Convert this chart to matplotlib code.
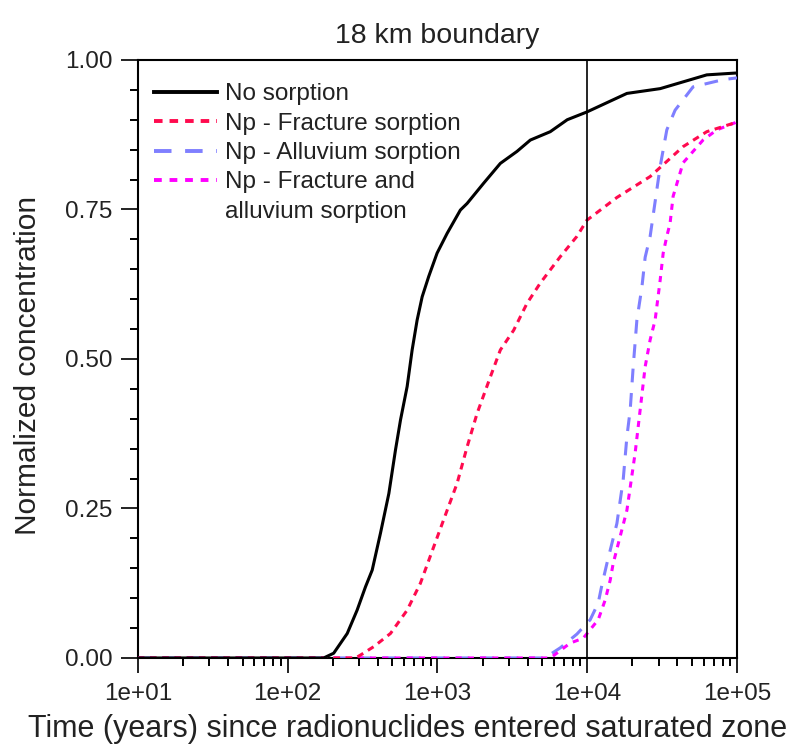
import matplotlib
matplotlib.use("Agg")
import matplotlib.pyplot as plt
from matplotlib.lines import Line2D
from matplotlib.ticker import FixedLocator, MultipleLocator, LogLocator, NullFormatter

plt.rcParams["font.family"] = ["Liberation Sans", "DejaVu Sans"]

# -------------------------------
# Data
# -------------------------------
t_none = [10, 174, 203, 250, 291, 331, 367, 417, 474, 525, 567, 628, 678, 732, 791,
          875, 995, 1161, 1423, 1578, 2037, 2630, 3396, 4170, 5667, 7356, 9953,
          18400, 30690, 62800, 97000, 100000]
c_none = [0, 0, 0.008, 0.041, 0.08, 0.119, 0.147, 0.209, 0.275, 0.348, 0.398, 0.454,
          0.515, 0.565, 0.604, 0.638, 0.677, 0.71, 0.749, 0.76, 0.794, 0.827, 0.847,
          0.866, 0.88, 0.90, 0.913, 0.944, 0.952, 0.975, 0.978, 0.978]

t_frac = [10, 284, 307, 376, 486, 628, 770, 945, 1161, 1353, 1578, 1840, 2256, 2630,
          3228, 3963, 4864, 6607, 8535, 9953, 15780, 26300, 43650, 62800, 97000, 100000]
c_frac = [0, 0, 0.005, 0.019, 0.041, 0.08, 0.125, 0.186, 0.247, 0.292, 0.353, 0.409,
          0.47, 0.515, 0.548, 0.593, 0.627, 0.671, 0.705, 0.732, 0.77, 0.805, 0.855,
          0.88, 0.895, 0.897]

t_allu = [10, 5200, 6607, 8535, 10470, 11840, 12530, 13530, 15780, 17380, 18400, 19360,
          20270, 21450, 23170, 24360, 26300, 30690, 33980, 38600, 50900, 80700, 100000]
c_allu = [0, 0, 0.017, 0.04, 0.064, 0.092, 0.122, 0.158, 0.225, 0.298, 0.37, 0.415,
          0.487, 0.565, 0.62, 0.67, 0.705, 0.822, 0.883, 0.916, 0.955, 0.967, 0.97]

t_both = [10, 5500, 5820, 7700, 9400, 11840, 13180, 14230, 14900, 18400, 20890, 22560,
          24360, 26300, 28390, 30690, 32140, 33980, 35730, 37440, 43650, 59300, 73280,
          97000, 100000]
c_both = [0, 0, 0.002, 0.025, 0.033, 0.064, 0.097, 0.13, 0.158, 0.247, 0.343, 0.415,
          0.487, 0.532, 0.565, 0.632, 0.677, 0.705, 0.727, 0.772, 0.828, 0.866, 0.883,
          0.895, 0.897]

labels = ["No sorption", "Np - Fracture sorption", "Np - Alluvium sorption",
          "Np - Fracture and", "alluvium sorption"]

# -------------------------------
# Plot
# -------------------------------
fig = plt.figure(figsize=(7.92, 7.49), dpi=100)
ax = fig.add_axes([0.174, 0.1215, 0.7566, 0.7985])

ax.plot(t_none, c_none, color="black", lw=2.2, zorder=5)
ax.plot(t_frac, c_frac, color="#ff0a4e", lw=2.2, dashes=(2.2, 1.8), zorder=4)
ax.plot(t_allu, c_allu, color="#7f7fff", lw=2.2, dashes=(4.5, 3.5), zorder=3)
ax.plot(t_both, c_both, color="#ff00ff", lw=2.2, dashes=(2.0, 2.0), zorder=3)

ax.axvline(1e4, color="black", lw=1.2, zorder=6)

ax.set_xscale("log")
ax.set_xlim(10, 1e5)
ax.set_ylim(0, 1)

ax.xaxis.set_major_locator(FixedLocator([1e1, 1e2, 1e3, 1e4, 1e5]))
ax.set_xticklabels(["1e+01", "1e+02", "1e+03", "1e+04", "1e+05"])
ax.xaxis.set_minor_locator(LogLocator(base=10, subs=range(2, 10)))
ax.xaxis.set_minor_formatter(NullFormatter())

ax.yaxis.set_major_locator(FixedLocator([0, 0.25, 0.5, 0.75, 1.0]))
ax.set_yticklabels(["0.00", "0.25", "0.50", "0.75", "1.00"])
ax.yaxis.set_minor_locator(MultipleLocator(0.05))

ax.tick_params(which="major", direction="out", length=12, width=1.4,
               labelsize=17.5, colors="#222222", pad=6)
ax.tick_params(which="minor", direction="out", length=6, width=1.4)
ax.tick_params(axis="x", which="major", length=11, pad=7)

for s in ax.spines.values():
    s.set_linewidth(1.5)

ax.set_title("18 km boundary", fontsize=20.5, color="#222222", pad=12)
ax.set_xlabel("Time (years) since radionuclides entered saturated zone",
              fontsize=22, color="#222222")
ax.xaxis.set_label_coords(0.45, -0.093)
ax.set_ylabel("Normalized concentration", fontsize=21.5, color="#222222")
ax.yaxis.set_label_coords(-0.16, 0.49)

handles = [
    Line2D([], [], color="black", lw=2.8),
    Line2D([], [], color="#ff0a4e", lw=2.8, dashes=(2.2, 1.8)),
    Line2D([], [], color="#7f7fff", lw=2.8, dashes=(4.5, 3.5)),
    Line2D([], [], color="#ff00ff", lw=2.8, dashes=(2.0, 2.0)),
    Line2D([], [], color="none"),
]
ax.legend(handles, labels, loc="upper left", bbox_to_anchor=(0.003, 0.985),
          frameon=False, fontsize=17.5, handlelength=2.6, handletextpad=0.3,
          labelspacing=0.3, borderaxespad=0.2, labelcolor="#222222")

fig.savefig("out.png", dpi=100)
